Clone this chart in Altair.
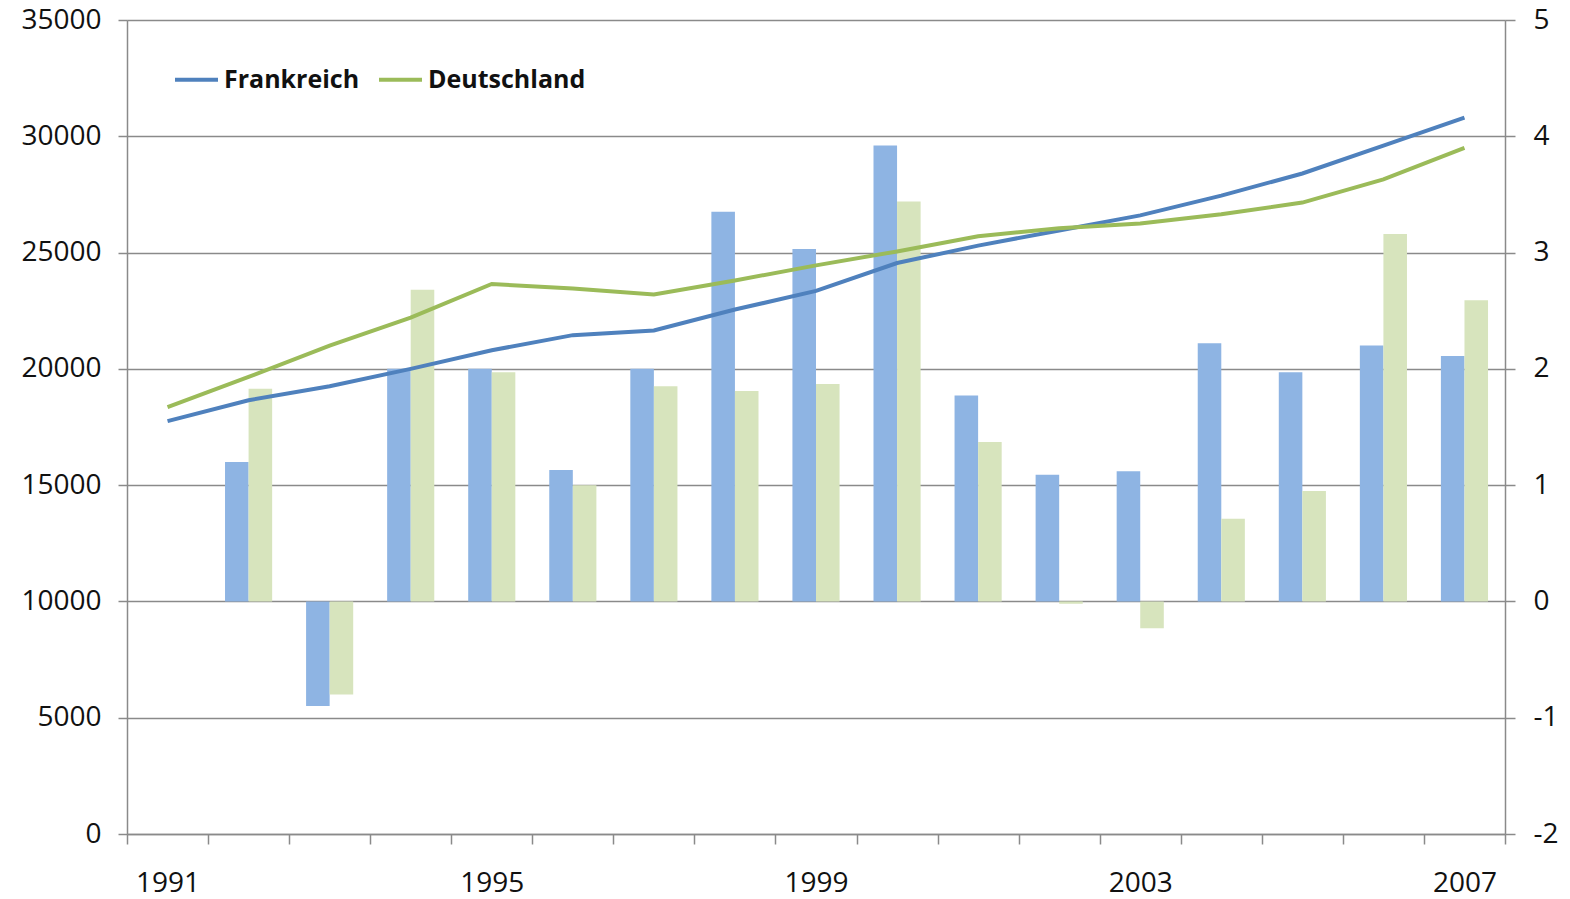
import altair as alt
import pandas as pd

years = [str(y) for y in range(1991, 2008)]
laender = ["Frankreich", "Deutschland"]

bip_frankreich = [17750, 18650, 19250, 20000, 20800, 21450, 21650, 22550, 23350,
                  24550, 25300, 25950, 26600, 27450, 28400, 29600, 30800]
bip_deutschland = [18350, 19650, 21000, 22200, 23650, 23450, 23200, 23800, 24450,
                   25050, 25700, 26050, 26250, 26650, 27150, 28150, 29500]
wachstum_frankreich = [None, 1.2, -0.9, 2.0, 2.0, 1.13, 2.0, 3.35, 3.03,
                       3.92, 1.77, 1.09, 1.12, 2.22, 1.97, 2.2, 2.11]
wachstum_deutschland = [None, 1.83, -0.8, 2.68, 1.97, 1.0, 1.85, 1.81, 1.87,
                        3.44, 1.37, -0.02, -0.23, 0.71, 0.95, 3.16, 2.59]

left_ticks = [0, 5000, 10000, 15000, 20000, 25000, 30000, 35000]
right_ticks = [-2, -1, 0, 1, 2, 3, 4, 5]
shown_years = ["1991", "1995", "1999", "2003", "2007"]

line_colors = ["#4F81BD", "#9BBB59"]
bar_colors = ["#8EB4E3", "#D7E4BD"]

rows_line = []
rows_bar = []
for i, y in enumerate(years):
    rows_line.append({"Jahr": y, "Land": "Frankreich", "BIP": bip_frankreich[i]})
    rows_line.append({"Jahr": y, "Land": "Deutschland", "BIP": bip_deutschland[i]})
    if wachstum_frankreich[i] is not None:
        rows_bar.append({"Jahr": y, "Land": "Frankreich", "Wachstum": wachstum_frankreich[i]})
    if wachstum_deutschland[i] is not None:
        rows_bar.append({"Jahr": y, "Land": "Deutschland", "Wachstum": wachstum_deutschland[i]})
line_df = pd.DataFrame(rows_line)
bar_df = pd.DataFrame(rows_bar)

FONT = "Open Sans"
GRID = "#8a8a8a"

label_expr = "indexof(" + str(shown_years) + ", datum.label) >= 0 ? datum.label : ''"

x_enc = alt.X(
    "Jahr:O",
    sort=years,
    scale=alt.Scale(domain=years, paddingInner=0, paddingOuter=0),
    axis=alt.Axis(
        title=None, labelAngle=0, tickBand="extent", labelExpr=label_expr,
        labelFont=FONT, labelFontSize=28, labelColor="#111111",
        labelPadding=25, tickSize=10, tickColor=GRID, tickWidth=1.5,
        domainColor=GRID, domainWidth=1.5, grid=False,
    ),
)

bars = alt.Chart(bar_df).mark_bar().encode(
    x=x_enc,
    xOffset=alt.XOffset("Land:N", sort=laender,
                        scale=alt.Scale(domain=laender, paddingInner=0, paddingOuter=0.72)),
    y=alt.Y(
        "Wachstum:Q",
        scale=alt.Scale(domain=[-2, 5], nice=False, zero=False),
        axis=alt.Axis(
            orient="right", title=None, values=right_ticks, grid=False,
            labelExpr="toString(datum.value)",
            labelFont=FONT, labelFontSize=28, labelColor="#111111",
            labelPadding=18, tickSize=10, tickColor=GRID, tickWidth=1.5,
            domainColor=GRID, domainWidth=1.5,
        ),
    ),
    y2=alt.datum(0),
    color=alt.Color("Land:N", sort=laender,
                    scale=alt.Scale(domain=laender, range=bar_colors), legend=None),
)

lines = alt.Chart(line_df).mark_line(strokeWidth=4).encode(
    x=x_enc,
    y=alt.Y(
        "BIP:Q",
        scale=alt.Scale(domain=[0, 35000], nice=False),
        axis=alt.Axis(
            orient="left", title=None, values=left_ticks, format="d", grid=True,
            gridColor=GRID, gridWidth=1.5,
            labelFont=FONT, labelFontSize=28, labelColor="#111111",
            labelPadding=17, tickSize=9, tickColor=GRID, tickWidth=1.5,
            domainColor=GRID, domainWidth=1.5,
        ),
    ),
    color=alt.Color(
        "Land:N", sort=laender,
        scale=alt.Scale(domain=laender, range=line_colors),
        legend=alt.Legend(
            title=None, orient="none", direction="horizontal",
            legendX=46, legendY=36, padding=0,
            symbolType="stroke", symbolSize=1849, symbolStrokeWidth=4,
            labelFont=FONT, labelFontSize=25, labelFontWeight="bold",
            labelColor="#111111", labelOffset=4, columnPadding=11, labelLimit=0,
        ),
    ),
)

chart = alt.layer(bars, lines).resolve_scale(
    y="independent", color="independent"
).properties(
    width=1378, height=814,
    autosize=alt.AutoSizeParams(type="none"),
    padding={"left": 119, "top": 12, "right": 56, "bottom": 70},
).configure_view(stroke=None).configure(background="white")

chart.save("out.html", embed_options={"renderer": "svg", "actions": False})
